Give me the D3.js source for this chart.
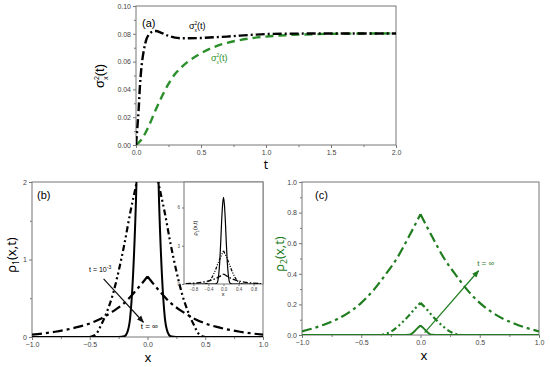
<!DOCTYPE html>
<html>
<head>
<meta charset="utf-8">
<script src="https://cdn.jsdelivr.net/npm/d3@7"></script>
<style>
  body { margin: 0; background: #fff; }
  text { font-family: "Liberation Sans", Arial, sans-serif; }
  .title { font-family: "Noto Sans", "Open Sans", sans-serif; }
</style>
</head>
<body>
<svg id="chart" width="550" height="367"></svg>
<script>
// ---- panel (a): variances vs time ----
let tBlack = [0, 0.01, 0.02, 0.03, 0.04, 0.06, 0.08, 0.1, 0.125, 0.15, 0.2, 0.25, 0.3, 0.35, 0.4, 0.5, 0.6, 0.7, 0.8, 0.9, 1.0, 1.2, 1.4, 1.6, 1.8, 2.0];
let sigmaBlack = [0, 0.012, 0.025, 0.042, 0.054, 0.068, 0.076, 0.0795, 0.0815, 0.082, 0.0805, 0.0785, 0.0772, 0.0768, 0.0768, 0.077, 0.0775, 0.078, 0.0787, 0.0793, 0.0798, 0.0801, 0.0802, 0.0802, 0.0802, 0.0802];
let tGreen = [0, 0.05, 0.1, 0.15, 0.2, 0.25, 0.3, 0.35, 0.4, 0.5, 0.6, 0.7, 0.8, 0.9, 1.0, 1.2, 1.4, 1.6, 1.8, 2.0];
let sigmaGreen = [0, 0.005, 0.014, 0.025, 0.035, 0.044, 0.051, 0.056, 0.06, 0.066, 0.0705, 0.0735, 0.0755, 0.077, 0.078, 0.0792, 0.0798, 0.0801, 0.0802, 0.0803];

// ---- panel (b): rho1(x,t) ----
let xWide = [-1, -0.9, -0.8, -0.7, -0.6, -0.5, -0.4, -0.3, -0.2, -0.1, 0, 0.1, 0.2, 0.3, 0.4, 0.5, 0.6, 0.7, 0.8, 0.9, 1];
let rho1Long = [0.03, 0.047, 0.068, 0.095, 0.13, 0.175, 0.24, 0.33, 0.44, 0.6, 0.78, 0.6, 0.44, 0.33, 0.24, 0.175, 0.13, 0.095, 0.068, 0.047, 0.03];
let xMid = [-0.5, -0.45, -0.4, -0.35, -0.3, -0.25, -0.2, -0.15, -0.1, -0.05, 0, 0.05, 0.1, 0.15, 0.2, 0.25, 0.3, 0.35, 0.4, 0.45, 0.5];
let rho1Mid = [0, 0.03, 0.16, 0.33, 0.55, 0.85, 1.2, 1.6, 1.95, 2.3, 2.6, 2.3, 1.95, 1.6, 1.2, 0.85, 0.55, 0.33, 0.16, 0.03, 0];
let xNarrow = [-1, -0.25, -0.2, -0.175, -0.15, -0.125, -0.1, -0.075, -0.05, -0.025, 0, 0.025, 0.05, 0.075, 0.1, 0.125, 0.15, 0.175, 0.2, 0.25, 1];
let rho1Narrow = [0, 0, 0.01, 0.06, 0.25, 0.8, 1.75, 3.2, 4.9, 6.2, 6.8, 6.2, 4.9, 3.2, 1.75, 0.8, 0.25, 0.06, 0.01, 0, 0];

// ---- panel (c): rho2(x,t) ----
let rho2Long = [0.024, 0.045, 0.072, 0.105, 0.15, 0.21, 0.29, 0.39, 0.5, 0.64, 0.79, 0.64, 0.5, 0.39, 0.29, 0.21, 0.15, 0.105, 0.072, 0.045, 0.024];
let xMid2 = [-0.4, -0.35, -0.3, -0.25, -0.2, -0.15, -0.1, -0.05, 0, 0.05, 0.1, 0.15, 0.2, 0.25, 0.3, 0.35, 0.4];
let rho2Mid = [0, 0, 0.006, 0.022, 0.05, 0.085, 0.125, 0.17, 0.21, 0.17, 0.125, 0.085, 0.05, 0.022, 0.006, 0, 0];
let xNarrow2 = [-1, -0.125, -0.1, -0.075, -0.05, -0.025, 0, 0.025, 0.05, 0.075, 0.1, 0.125, 1];
let rho2Narrow = [0, 0, 0.001, 0.008, 0.025, 0.045, 0.062, 0.045, 0.025, 0.008, 0.001, 0, 0];

// tick values
let tTicks = [0, 0.5, 1.0, 1.5, 2.0];
let sigmaTicks = [0, 0.02, 0.04, 0.06, 0.08, 0.10];
let xTicks = [-1, -0.5, 0, 0.5, 1];
let rho1Ticks = [0, 1, 2];
let rho2Ticks = [0, 0.2, 0.4, 0.6, 0.8, 1.0];
let insetXTicks = [-0.8, -0.4, 0, 0.4, 0.8];
let insetYTicks = [0, 3, 6];

let green = "#2a8f2a";
let darkGreen = "#1f7d1f";
let frameColor = "#777";

let svg = d3.select("#chart");

let idCount = 0;

// frame + ticks for one panel
function drawPanel(p) {
  let x = d3.scaleLinear().domain(p.xDomain).range([p.left, p.right]);
  let y = d3.scaleLinear().domain(p.yDomain).range([p.bottom, p.top]);
  let g = svg.append("g");
  let fs = p.fontSize || 7;

  let xAxis = g.append("g")
    .attr("transform", "translate(0," + p.bottom + ")")
    .call(d3.axisBottom(x).tickValues(p.xTicks).tickSize(p.tick || 3).tickFormat(p.xFmt));
  let yAxis = g.append("g")
    .attr("transform", "translate(" + p.left + ",0)")
    .call(d3.axisLeft(y).tickValues(p.yTicks).tickSize(p.tick || 3).tickFormat(p.yFmt));
  if (p.xMinor) {
    g.append("g").attr("transform", "translate(0," + p.bottom + ")")
      .call(d3.axisBottom(x).tickValues(p.xMinor).tickSize(2).tickFormat(""));
  }
  if (p.yMinor) {
    g.append("g").attr("transform", "translate(" + p.left + ",0)")
      .call(d3.axisLeft(y).tickValues(p.yMinor).tickSize(2).tickFormat(""));
  }
  g.selectAll(".domain").remove();
  g.selectAll(".tick line").attr("stroke", frameColor);
  g.selectAll(".tick text")
    .style("font-size", fs + "px")
    .attr("fill", "#444");
  xAxis.selectAll(".tick text").attr("y", (p.tick || 3) + 2);
  yAxis.selectAll(".tick text").attr("x", -(p.tick || 3) - 2);

  g.append("rect")
    .attr("x", p.left).attr("y", p.top)
    .attr("width", p.right - p.left).attr("height", p.bottom - p.top)
    .attr("fill", p.fill || "none")
    .attr("stroke", frameColor).attr("stroke-width", 1);

  let id = "clip" + (idCount++);
  svg.append("clipPath").attr("id", id)
    .append("rect")
    .attr("x", p.left).attr("y", p.top)
    .attr("width", p.right - p.left).attr("height", p.bottom - p.top);

  let plot = svg.append("g").attr("clip-path", "url(#" + id + ")");
  return { x: x, y: y, g: g, plot: plot };
}

// a curve; split=true draws each side of x=0 separately to keep the cusp sharp
function drawCurve(pn, xs, ys, style, split) {
  let pts = xs.map((v, i) => [v, ys[i]]);
  let line = d3.line().x(d => pn.x(d[0])).y(d => pn.y(d[1])).curve(d3.curveMonotoneX);
  let d;
  if (split) {
    let left = pts.filter(p => p[0] <= 0);
    let right = pts.filter(p => p[0] >= 0);
    d = line(left) + line(right);
  } else {
    d = line(pts);
  }
  pn.plot.append("path")
    .attr("d", d)
    .attr("fill", "none")
    .attr("stroke", style.color)
    .attr("stroke-width", style.width)
    .attr("stroke-dasharray", style.dash || null);
}

function arrow(id, color) {
  svg.append("defs").append("marker")
    .attr("id", id)
    .attr("viewBox", "0 0 10 10")
    .attr("refX", 9).attr("refY", 5)
    .attr("markerWidth", 6).attr("markerHeight", 6)
    .attr("orient", "auto")
    .append("path").attr("d", "M0,1 L10,5 L0,9 Z").attr("fill", color);
}
arrow("arrBlack", "#111");
arrow("arrGreen", darkGreen);

function sigmaLabel(parent, x, y, size, color, rotate) {
  let t = parent.append("text")
    .attr("x", x).attr("y", y)
    .attr("fill", color)
    .style("font-size", size + "px");
  if (rotate) t.attr("transform", "rotate(-90," + x + "," + y + ")").attr("text-anchor", "middle");
  t.append("tspan").text("σ");
  t.append("tspan").attr("dy", -size * 0.4).style("font-size", (size * 0.55) + "px").text("2");
  t.append("tspan").attr("dx", -size * 0.3).attr("dy", size * 0.7).style("font-size", (size * 0.55) + "px").text("x");
  t.append("tspan").attr("dy", -size * 0.3).text("(t)");
}

function rhoLabel(x, y, size, color, sub) {
  let t = svg.append("text")
    .attr("class", "title")
    .attr("x", x).attr("y", y)
    .attr("fill", color)
    .attr("text-anchor", "middle")
    .attr("transform", "rotate(-90," + x + "," + y + ")")
    .style("font-size", size + "px");
  t.append("tspan").text("ρ");
  t.append("tspan").attr("dy", size * 0.25).style("font-size", (size * 0.65) + "px").text(sub);
  t.append("tspan").attr("dy", -size * 0.25).text("(x,t)");
}

let fmt1 = d3.format(".1f");
let fmt2 = d3.format(".2f");

// ================= panel (a) =================
let pa = drawPanel({
  left: 136, right: 396, top: 6, bottom: 145,
  xDomain: [0, 2], yDomain: [0, 0.10],
  xTicks: tTicks, yTicks: sigmaTicks,
  xMinor: [0.25, 0.75, 1.25, 1.75], yMinor: [0.01, 0.03, 0.05, 0.07, 0.09],
  xFmt: fmt1, yFmt: fmt2
});
drawCurve(pa, tGreen, sigmaGreen, { color: green, width: 2.4, dash: "8,5" });
drawCurve(pa, tBlack, sigmaBlack, { color: "#000", width: 2.4, dash: "9,3,2,3" });

svg.append("text").attr("x", 142).attr("y", 27).style("font-size", "11px").text("(a)");
sigmaLabel(svg, 189, 29, 9, "#000");
sigmaLabel(svg, 211, 61, 9, green);
sigmaLabel(svg, 104, 76, 13, "#000", true);
svg.append("text").attr("class", "title").attr("x", 266).attr("y", 169)
  .attr("text-anchor", "middle").style("font-size", "12px").text("t");

// ================= panel (b) =================
let pb = drawPanel({
  left: 32, right: 263, top: 182, bottom: 337,
  xDomain: [-1, 1], yDomain: [0, 2],
  xTicks: xTicks, yTicks: rho1Ticks,
  xMinor: [-0.75, -0.25, 0.25, 0.75], yMinor: [0.5, 1.5],
  xFmt: fmt1, yFmt: d3.format("d")
});
let solidB = { color: "#000", width: 2 };
let longB = { color: "#000", width: 2.2, dash: "10,4,3,4" };
let midB = { color: "#000", width: 2.2, dash: "6,3,2,3,2,3" };
drawCurve(pb, xWide, rho1Long, longB, true);
drawCurve(pb, xMid, rho1Mid, midB, true);
drawCurve(pb, xNarrow, rho1Narrow, solidB, false);

svg.append("text").attr("x", 37).attr("y", 199).style("font-size", "11px").text("(b)");
rhoLabel(16, 255, 13, "#000", "1");
svg.append("text").attr("class", "title").attr("x", 148).attr("y", 362)
  .attr("text-anchor", "middle").style("font-size", "13px").text("x");

// annotation in (b)
let tb = svg.append("text").attr("x", pb.x(-0.41)).attr("y", pb.y(0.84))
  .attr("text-anchor", "middle").style("font-size", "7px");
tb.append("tspan").text("t = 10");
tb.append("tspan").attr("dy", -3).style("font-size", "5px").text("-3");
svg.append("line")
  .attr("x1", pb.x(-0.38)).attr("y1", pb.y(0.75))
  .attr("x2", pb.x(-0.035)).attr("y2", pb.y(0.19))
  .attr("stroke", "#111").attr("stroke-width", 1.2)
  .attr("marker-end", "url(#arrBlack)");
svg.append("text").attr("x", pb.x(0.015)).attr("y", pb.y(0.1))
  .attr("text-anchor", "middle").style("font-size", "8px").text("t = ∞");

// inset
let pi = drawPanel({
  left: 184, right: 263, top: 182, bottom: 284,
  xDomain: [-1.05, 1.05], yDomain: [0, 8],
  xTicks: insetXTicks, yTicks: insetYTicks,
  xFmt: fmt1, yFmt: d3.format("d"),
  fontSize: 4.5, tick: 2, fill: "#fff"
});
drawCurve(pi, xWide, rho1Long, { color: "#000", width: 1.3, dash: "5,2,1.5,2" }, true);
drawCurve(pi, xMid, rho1Mid, { color: "#000", width: 1.3, dash: "3,1.5,1,1.5,1,1.5" }, true);
drawCurve(pi, xNarrow, rho1Narrow, { color: "#000", width: 1.2 }, false);
let il = svg.append("text").attr("x", 197).attr("y", 228)
  .attr("text-anchor", "middle").attr("transform", "rotate(-90,197,228)")
  .style("font-size", "5.5px");
il.append("tspan").text("ρ");
il.append("tspan").attr("dy", 1.5).style("font-size", "4px").text("1");
il.append("tspan").attr("dy", -1.5).text("(x,t)");
svg.append("text").attr("x", 223).attr("y", 296).attr("text-anchor", "middle")
  .style("font-size", "5.5px").text("x");

// ================= panel (c) =================
let pc = drawPanel({
  left: 302, right: 539, top: 182, bottom: 335,
  xDomain: [-1, 1], yDomain: [0, 1],
  xTicks: xTicks, yTicks: rho2Ticks,
  xMinor: [-0.75, -0.25, 0.25, 0.75], yMinor: [0.1, 0.3, 0.5, 0.7, 0.9],
  xFmt: fmt1, yFmt: fmt1
});
drawCurve(pc, xWide, rho2Long, { color: darkGreen, width: 2.2, dash: "10,4,3,4" }, true);
drawCurve(pc, xMid2, rho2Mid, { color: darkGreen, width: 2.2, dash: "6,3,2,3,2,3" }, true);
drawCurve(pc, xNarrow2, rho2Narrow, { color: darkGreen, width: 2 }, true);

svg.append("text").attr("x", 315).attr("y", 199).style("font-size", "11px").text("(c)");
rhoLabel(284, 254, 13, darkGreen, "2");
svg.append("text").attr("class", "title").attr("x", 424).attr("y", 360)
  .attr("text-anchor", "middle").style("font-size", "13px").text("x");

svg.append("line")
  .attr("x1", pc.x(0.035)).attr("y1", pc.y(0.015))
  .attr("x2", pc.x(0.49)).attr("y2", pc.y(0.42))
  .attr("stroke", darkGreen).attr("stroke-width", 1.2)
  .attr("marker-end", "url(#arrGreen)");
svg.append("text").attr("x", pc.x(0.55)).attr("y", pc.y(0.45))
  .attr("text-anchor", "middle").attr("fill", darkGreen)
  .style("font-size", "8px").text("t = ∞");
</script>
</body>
</html>
